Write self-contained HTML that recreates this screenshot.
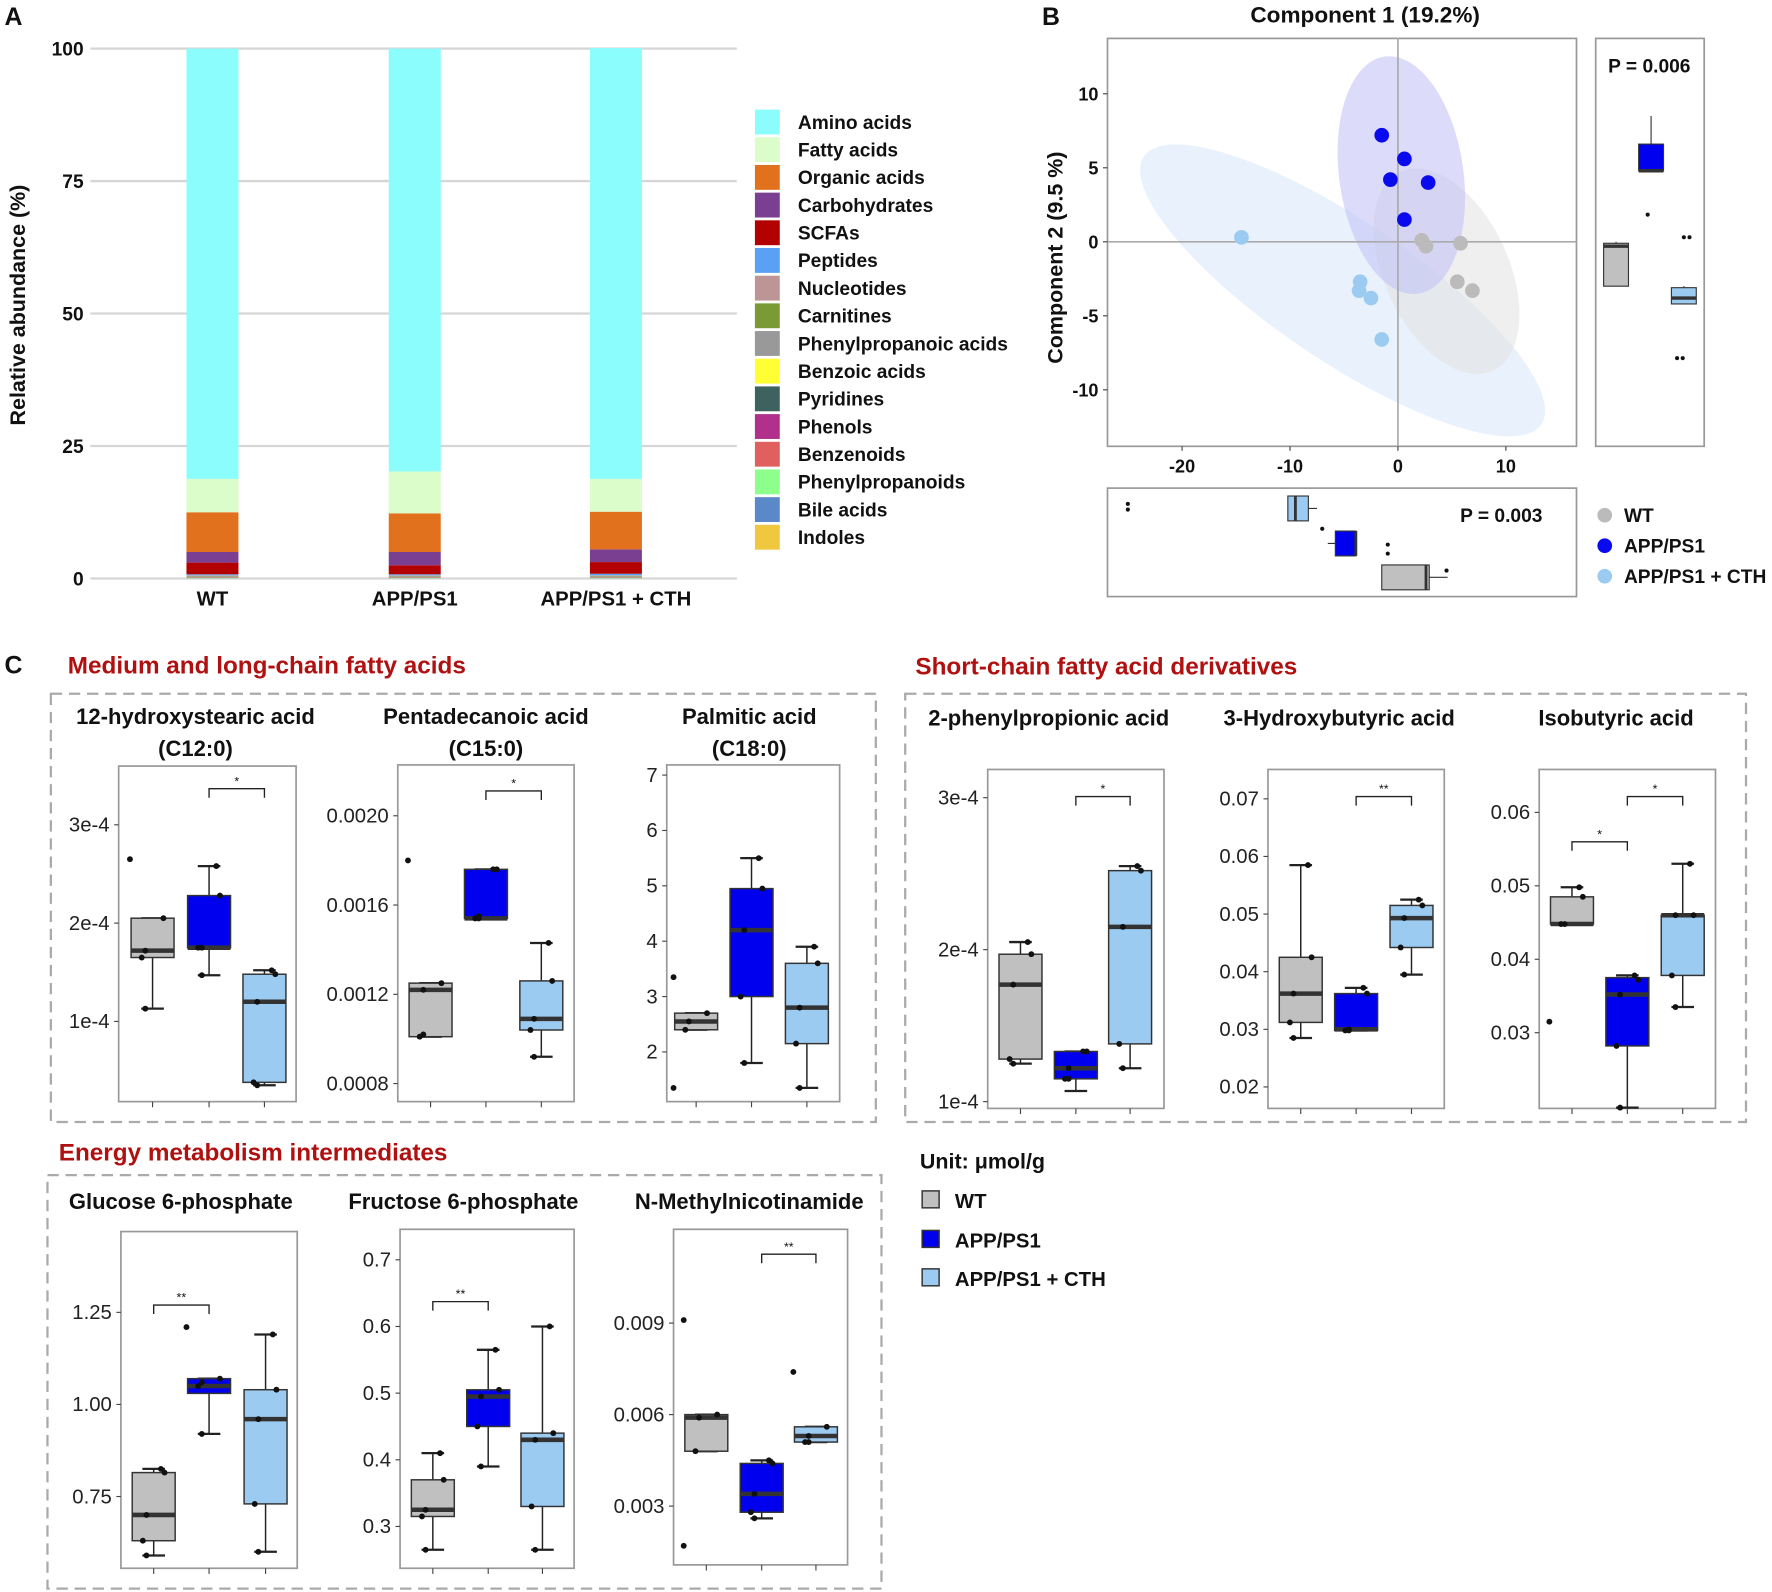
<!DOCTYPE html>
<html><head><meta charset="utf-8"><style>
html,body{margin:0;padding:0;background:#fff;}
svg{display:block;font-family:"Liberation Sans",Arial,sans-serif;}
</style></head><body>
<svg id="fig" width="1772" height="1592" viewBox="0 0 1568 1409" preserveAspectRatio="none" xmlns="http://www.w3.org/2000/svg"></svg>
<script>
// ---------- Panel A data ----------
const stackGroups = ["WT", "APP/PS1", "APP/PS1 + CTH"];
const stackCats = ["Amino acids","Fatty acids","Organic acids","Carbohydrates","SCFAs","Peptides","Nucleotides","Carnitines","Phenylpropanoic acids","Benzoic acids","Pyridines","Phenols","Benzenoids","Phenylpropanoids","Bile acids","Indoles"];
const stackColors = ["#8cfdfd","#dbfdc9","#e2711d","#7b3f92","#b30000","#5aa0f5","#be9595","#7a9a35","#999999","#ffff33","#3e6260","#b0308c","#e06060","#8cff8c","#5a88c8","#f0c840"];
const valsWT  = [81.2,6.3,7.5,2.0,2.2,0.2,0.1,0.1,0.1,0.05,0.05,0.05,0.05,0.05,0.05,0.0];
const valsAPP = [79.8,7.9,7.3,2.5,1.7,0.2,0.1,0.1,0.1,0.05,0.05,0.05,0.05,0.05,0.05,0.0];
const valsCTH = [81.3,6.2,7.1,2.4,2.2,0.3,0.1,0.1,0.1,0.05,0.05,0.05,0.05,0.05,0.05,0.0];
const stackTicks = [0,25,50,75,100];

// ---------- Panel B data ----------
const pcaX_WT  = [2.2,2.6,5.8,5.5,6.9];
const pcaY_WT  = [0.1,-0.3,-0.1,-2.7,-3.3];
const pcaX_APP = [-1.5,0.6,-0.7,2.8,0.6];
const pcaY_APP = [7.2,5.6,4.2,4.0,1.5];
const pcaX_CTH = [-14.5,-3.5,-3.6,-2.5,-1.5];
const pcaY_CTH = [0.3,-2.7,-3.3,-3.8,-6.6];
const pcaXTicks = [-20,-10,0,10];
const pcaYTicks = [10,5,0,-5,-10];
const pc2Box = [[-3.0,-3.0,-0.3,-0.1,0],[4.8,4.8,4.8,6.6,8.5],[-4.2,-4.2,-3.8,-3.1,-3.0]];
const pc1Box = [[-1.5,-1.5,2.6,2.9,4.6],[-6.5,-5.8,-3.9,-3.9,-3.9],[-10.2,-10.2,-9.5,-8.3,-7.5]];

// ---------- Panel C data (each box: [whiskLo, q1, median, q3, whiskHi]) ----------
const c1Box = [[1.13,1.65,1.72,2.05,2.05],[1.47,1.75,1.75,2.28,2.58],[0.35,0.38,1.2,1.48,1.52]];
const c1Pts = [[2.65,2.05,1.72,1.65,1.13],[2.58,2.28,1.75,1.75,1.47],[1.52,1.48,1.2,0.38,0.35]];
const c2Box = [[0.00101,0.00101,0.00122,0.00125,0.00125],[0.00154,0.00154,0.00154,0.00176,0.00176],[0.00092,0.00104,0.00109,0.00126,0.00143]];
const c2Pts = [[0.0018,0.00125,0.00122,0.00101,0.00102],[0.00176,0.00176,0.00155,0.00154,0.00154],[0.00143,0.00126,0.00109,0.00104,0.00092]];
const c3Box = [[2.4,2.4,2.55,2.7,2.7],[1.8,3.0,4.2,4.95,5.5],[1.35,2.15,2.8,3.6,3.9]];
const c3Pts = [[3.35,2.7,2.55,2.4,1.35],[5.5,4.95,4.2,3.0,1.8],[3.9,3.6,2.8,2.15,1.35]];
const c4Box = [[1.25,1.28,1.77,1.97,2.05],[1.07,1.15,1.22,1.33,1.33],[1.22,1.38,2.15,2.52,2.55]];
const c4Pts = [[2.05,1.97,1.77,1.28,1.25],[1.33,1.33,1.22,1.15,1.15],[2.55,2.52,2.15,1.38,1.22]];
const c5Box = [[0.0285,0.0312,0.0362,0.0425,0.0585],[0.0298,0.0298,0.0300,0.0362,0.0372],[0.0395,0.0442,0.0493,0.0515,0.0525]];
const c5Pts = [[0.0585,0.0425,0.0362,0.0312,0.0285],[0.0372,0.0362,0.0300,0.0298,0.0298],[0.0525,0.0515,0.0493,0.0442,0.0395]];
const c6Box = [[0.0448,0.0448,0.0448,0.0485,0.0498],[0.0198,0.0282,0.0352,0.0375,0.0378],[0.0335,0.0378,0.0460,0.0460,0.0530]];
const c6Pts = [[0.0498,0.0485,0.0448,0.0448,0.0315],[0.0378,0.0372,0.0352,0.0282,0.0198],[0.0530,0.0460,0.0460,0.0378,0.0335]];
const c7Box = [[0.59,0.63,0.70,0.815,0.825],[0.92,1.03,1.05,1.07,1.07],[0.60,0.73,0.96,1.04,1.19]];
const c7Pts = [[0.825,0.815,0.70,0.63,0.59],[1.21,1.07,1.06,1.05,0.92],[1.19,1.04,0.96,0.73,0.60]];
const c8Box = [[0.265,0.315,0.325,0.37,0.41],[0.39,0.45,0.495,0.505,0.565],[0.265,0.33,0.43,0.44,0.6]];
const c8Pts = [[0.41,0.37,0.325,0.315,0.265],[0.565,0.505,0.495,0.45,0.39],[0.6,0.44,0.43,0.33,0.265]];
const c9Box = [[0.0048,0.0048,0.0059,0.0060,0.0060],[0.0026,0.0028,0.0034,0.0044,0.0045],[0.0051,0.0051,0.0053,0.0056,0.0056]];
const c9Pts = [[0.0091,0.0060,0.0059,0.0048,0.0017],[0.0045,0.0044,0.0034,0.0028,0.0026],[0.0074,0.0056,0.0053,0.0051,0.0051]];

const groupFill = ["#c0c0c0","#0000ee","#9ccbf2"];
const svg = document.getElementById('fig');
const NS = "http://www.w3.org/2000/svg";

function mk(tag, attrs, name, parent, txt){
  const el = document.createElementNS(NS, tag);
  for (const k in attrs) el.setAttribute(k, attrs[k]);
  
  
  if (txt !== undefined) el.textContent = txt;
  (parent || svg).appendChild(el);
  return el;
}
function T(x,y,s,opt,name){
  opt = opt || {};
  return mk('text',{x:x,y:y,'font-size':opt.fs||17,'font-weight':opt.fw||'bold','text-anchor':opt.a||'start',fill:opt.c||'#111',transform:opt.tr||''},name,opt.p,s);
}

// ================= PANEL A =================
T(4,22,"A",{fs:22},'panel-a-label');
const aY = v => 512 - v*4.69;
const aCenters = [188,367,545];
stackTicks.forEach(t=>{
  mk('line',{x1:80,x2:652,y1:aY(t),y2:aY(t),stroke:'#d6d6d6','stroke-width':2},'gridline-'+t);
  T(74,aY(t)+6,String(t),{fs:17,a:'end'},'y-tick-'+t);
});
T(22,270,"Relative abundance (%)",{fs:19,a:'middle',tr:'rotate(-90 22 270)'},'y-axis-title');
[valsWT,valsAPP,valsCTH].forEach((vals,gi)=>{
  let base = 0;
  for (let i = stackCats.length-1; i>=0; i--){
    const v = vals[i];
    if (v<=0) continue;
    mk('rect',{x:aCenters[gi]-23,y:aY(base+v),width:46,height:aY(base)-aY(base+v),fill:stackColors[i]},'bar-'+stackGroups[gi]+'-'+stackCats[i]);
    base += v;
  }
  T(aCenters[gi],536,stackGroups[gi],{fs:18,a:'middle'},'x-label-'+gi);
});
stackCats.forEach((c,i)=>{
  const y = 97 + i*24.5;
  mk('rect',{x:668,y:y,width:22,height:22,fill:stackColors[i]},'legend-swatch-'+i);
  T(706,y+17,c,{fs:17},'legend-entry-'+i);
});

// ================= PANEL B =================
T(922,22,"B",{fs:22},'panel-b-label');
T(1208,20,"Component 1 (19.2%)",{fs:20,a:'middle'},'pca-x-title');
T(940,228,"Component 2 (9.5 %)",{fs:19,a:'middle',tr:'rotate(-90 940 228)'},'pca-y-title');
const bX = v => 1237 + v*9.55;
const bY = v => 214 - v*13.1;
mk('rect',{x:980,y:34,width:415,height:361,fill:'#fff',stroke:'#999','stroke-width':1.5},'pca-plot-frame');
mk('ellipse',{cx:1188,cy:257,rx:212,ry:62,transform:'rotate(34 1188 257)',fill:'#dbe8fa','fill-opacity':0.6},'ellipse-cth');
mk('ellipse',{cx:1280,cy:240,rx:55,ry:97,transform:'rotate(-25 1280 240)',fill:'#e2e2e2','fill-opacity':0.55},'ellipse-wt');
mk('ellipse',{cx:1240,cy:155,rx:55,ry:106,transform:'rotate(-8 1240 155)',fill:'#c0c0f6','fill-opacity':0.55},'ellipse-app');
mk('line',{x1:980,x2:1395,y1:bY(0),y2:bY(0),stroke:'#aaa','stroke-width':1.5},'pca-hline');
mk('line',{x1:bX(0),x2:bX(0),y1:34,y2:395,stroke:'#aaa','stroke-width':1.5},'pca-vline');
pcaXTicks.forEach(t=>{ T(bX(t),418,String(t),{fs:16,a:'middle'},'pca-x-tick-'+t); mk('line',{x1:bX(t),x2:bX(t),y1:395,y2:399,stroke:'#444'},'pca-x-tickmark');});
pcaYTicks.forEach(t=>{ T(972,bY(t)+6,String(t),{fs:16,a:'end'},'pca-y-tick-'+t); mk('line',{x1:976,x2:980,y1:bY(t),y2:bY(t),stroke:'#444'},'pca-y-tickmark');});
[[pcaX_WT,pcaY_WT,'#bbbbbb','wt'],[pcaX_APP,pcaY_APP,'#0a0aee','app'],[pcaX_CTH,pcaY_CTH,'#9ccbf2','cth']].forEach(s=>{
  s[0].forEach((x,i)=>mk('circle',{cx:bX(x),cy:bY(s[1][i]),r:6.5,fill:s[2]},'point-'+s[3]+'-'+i));
});
mk('rect',{x:1412,y:34,width:96,height:361,fill:'#fff',stroke:'#999','stroke-width':1.5},'pc2-box-frame');
T(1423,64,"P = 0.006",{fs:17},'pc2-pvalue');
function vbox(cx,w,arr,col,yf,name){
  mk('line',{x1:cx,x2:cx,y1:yf(arr[0]),y2:yf(arr[4]),stroke:'#333','stroke-width':1},name+'-whisker');
  mk('rect',{x:cx-w/2,y:yf(arr[3]),width:w,height:Math.max(1,yf(arr[1])-yf(arr[3])),fill:col,stroke:'#333','stroke-width':1},name+'-box');
  mk('line',{x1:cx-w/2,x2:cx+w/2,y1:yf(arr[2]),y2:yf(arr[2]),stroke:'#333','stroke-width':3},name+'-median');
}
function hbox(cy,h,arr,col,xf,name){
  mk('line',{y1:cy,y2:cy,x1:xf(arr[0]),x2:xf(arr[4]),stroke:'#333','stroke-width':1},name+'-whisker');
  mk('rect',{y:cy-h/2,x:xf(arr[1]),height:h,width:Math.max(1,xf(arr[3])-xf(arr[1])),fill:col,stroke:'#333','stroke-width':1},name+'-box');
  mk('line',{y1:cy-h/2,y2:cy+h/2,x1:xf(arr[2]),x2:xf(arr[2]),stroke:'#333','stroke-width':2.5},name+'-median');
}
vbox(1430,22,pc2Box[0],groupFill[0],bY,'pc2-wt');
vbox(1461,22,pc2Box[1],groupFill[1],bY,'pc2-app');
vbox(1490,22,pc2Box[2],groupFill[2],bY,'pc2-cth');
mk('rect',{x:980,y:432,width:415,height:96,fill:'#fff',stroke:'#999','stroke-width':1.5},'pc1-box-frame');
T(1292,462,"P = 0.003",{fs:17},'pc1-pvalue');
hbox(450,22,pc1Box[2],groupFill[2],bX,'pc1-cth');
hbox(481,22,pc1Box[1],groupFill[1],bX,'pc1-app');
hbox(511,22,pc1Box[0],groupFill[0],bX,'pc1-wt');
[[998,446],[998,451],[1170,468],[1228,482],[1228,490],[1280,505],[1458,190],[1490,210],[1495,210],[1484,317],[1489,317]].forEach((p,i)=>mk('circle',{cx:p[0],cy:p[1],r:1.8,fill:'#111'},'marginal-outlier-'+i));
[['WT','#bbbbbb',456],['APP/PS1','#0a0aee',483],['APP/PS1 + CTH','#9ccbf2',510]].forEach((l,i)=>{
  mk('circle',{cx:1420,cy:l[2],r:6.5,fill:l[1]},'pca-legend-marker-'+i);
  T(1437,l[2]+6,l[0],{fs:17},'pca-legend-entry-'+i);
});

// ================= PANEL C =================
T(4,596,"C",{fs:22},'panel-c-label');
T(60,596,"Medium and long-chain fatty acids",{fs:21.5,c:'#b01010'},'group-title-mlcfa');
T(810,597,"Short-chain fatty acid derivatives",{fs:21.5,c:'#b01010'},'group-title-scfa');
T(52,1027,"Energy metabolism intermediates",{fs:21.5,c:'#b01010'},'group-title-energy');
mk('rect',{x:45,y:614,width:730,height:379,fill:'none',stroke:'#aaa','stroke-width':2,'stroke-dasharray':'10 6'},'group-frame-mlcfa');
mk('rect',{x:801,y:614,width:744,height:379,fill:'none',stroke:'#aaa','stroke-width':2,'stroke-dasharray':'10 6'},'group-frame-scfa');
mk('rect',{x:42,y:1040,width:738,height:366,fill:'none',stroke:'#aaa','stroke-width':2,'stroke-dasharray':'10 6'},'group-frame-energy');

function boxPanel(cfg, boxes, pts){
  const yf = v => cfg.y0 + (v - cfg.v0) * cfg.k;
  mk('rect',{x:cfg.fx,y:cfg.fy,width:cfg.fw,height:cfg.fh,fill:'#fff',stroke:'#999','stroke-width':1.5},cfg.name+'-frame');
  cfg.title.forEach((t,i)=>T(cfg.tx,cfg.ty+i*28,t,{fs:19.5,a:'middle'},cfg.name+'-title'));
  cfg.ticks.forEach((t,i)=>{
    T(cfg.fx-8,yf(t)+6,cfg.tickLabels[i],{fs:18,fw:'normal',a:'end',c:'#222'},cfg.name+'-ytick');
    mk('line',{x1:cfg.fx-4,x2:cfg.fx,y1:yf(t),y2:yf(t),stroke:'#444'},cfg.name+'-ytickmark');
  });
  boxes.forEach((b,gi)=>{
    const cx = cfg.cx[gi], w = 38;
    mk('line',{x1:cx,x2:cx,y1:yf(b[0]),y2:yf(b[4]),stroke:'#222','stroke-width':1.3},cfg.name+'-whisker-'+gi);
    mk('line',{x1:cx-10,x2:cx+10,y1:yf(b[0]),y2:yf(b[0]),stroke:'#222','stroke-width':2},cfg.name+'-cap-lo-'+gi);
    mk('line',{x1:cx-10,x2:cx+10,y1:yf(b[4]),y2:yf(b[4]),stroke:'#222','stroke-width':2},cfg.name+'-cap-hi-'+gi);
    mk('rect',{x:cx-w/2,y:yf(b[3]),width:w,height:Math.max(1,yf(b[1])-yf(b[3])),fill:groupFill[gi],stroke:'#333','stroke-width':1.3},cfg.name+'-box-'+gi);
    mk('line',{x1:cx-w/2,x2:cx+w/2,y1:yf(b[2]),y2:yf(b[2]),stroke:'#333','stroke-width':4},cfg.name+'-median-'+gi);
    mk('line',{x1:cx,x2:cx,y1:cfg.fy+cfg.fh,y2:cfg.fy+cfg.fh+5,stroke:'#444'},cfg.name+'-xtickmark-'+gi);
    pts[gi].forEach((v,pi)=>{
      const inside = v>=b[0]-1e-12 && v<=b[4]+1e-12;
      const px = inside ? cx + (pi%2?12:-8)*((pi%3)?1:-1)*0.8 : cx - 20;
      mk('circle',{cx:px,cy:yf(v),r:2.6,fill:'#111'},cfg.name+'-point-'+gi+'-'+pi);
    });
  });
  (cfg.sig||[]).forEach((s,i)=>{
    const x1=cfg.cx[s[0]], x2=cfg.cx[s[1]], y=s[2];
    mk('path',{d:`M${x1},${y+8}V${y}H${x2}V${y+8}`,fill:'none',stroke:'#222','stroke-width':1.2},cfg.name+'-sig-bracket-'+i);
    T((x1+x2)/2,y-3,s[3],{fs:11,fw:'normal',a:'middle'},cfg.name+'-sig-star-'+i);
  });
}
boxPanel({name:'c12',fx:105,fy:678,fw:157,fh:297,tx:173,ty:641,title:['12-hydroxystearic acid','(C12:0)'],y0:904,v0:1,k:-87,ticks:[1,2,3],tickLabels:['1e-4','2e-4','3e-4'],cx:[135,185,234],sig:[[1,2,698,'*']]},c1Box,c1Pts);
boxPanel({name:'c15',fx:352,fy:677,fw:156,fh:298,tx:430,ty:641,title:['Pentadecanoic  acid','(C15:0)'],y0:959,v0:0.0008,k:-197500,ticks:[0.0008,0.0012,0.0016,0.002],tickLabels:['0.0008','0.0012','0.0016','0.0020'],cx:[381,430,479],sig:[[1,2,700,'*']]},c2Box,c2Pts);
boxPanel({name:'c18',fx:590,fy:677,fw:153,fh:298,tx:663,ty:641,title:['Palmitic acid','(C18:0)'],y0:931,v0:2,k:-49,ticks:[2,3,4,5,6,7],tickLabels:['2','3','4','5','6','7'],cx:[616,665,714]},c3Box,c3Pts);
boxPanel({name:'phenylpropionic',fx:874,fy:681,fw:156,fh:300,tx:928,ty:642,title:['2-phenylpropionic acid'],y0:975,v0:1,k:-134.5,ticks:[1,2,3],tickLabels:['1e-4','2e-4','3e-4'],cx:[903,952,1000],sig:[[1,2,705,'*']]},c4Box,c4Pts);
boxPanel({name:'hydroxybutyric',fx:1122,fy:681,fw:156,fh:300,tx:1185,ty:642,title:['3-Hydroxybutyric acid'],y0:962,v0:0.02,k:-5100,ticks:[0.02,0.03,0.04,0.05,0.06,0.07],tickLabels:['0.02','0.03','0.04','0.05','0.06','0.07'],cx:[1151,1200,1249],sig:[[1,2,705,'**']]},c5Box,c5Pts);
boxPanel({name:'isobutyric',fx:1362,fy:681,fw:156,fh:300,tx:1430,ty:642,title:['Isobutyric acid'],y0:914,v0:0.03,k:-6500,ticks:[0.03,0.04,0.05,0.06],tickLabels:['0.03','0.04','0.05','0.06'],cx:[1391,1440,1489],sig:[[0,1,745,'*'],[1,2,705,'*']]},c6Box,c6Pts);
boxPanel({name:'g6p',fx:107,fy:1090,fw:156,fh:298,tx:160,ty:1070,title:['Glucose 6-phosphate'],y0:1243,v0:1,k:-326,ticks:[0.75,1,1.25],tickLabels:['0.75','1.00','1.25'],cx:[136,185,235],sig:[[0,1,1155,'**']]},c7Box,c7Pts);
boxPanel({name:'f6p',fx:354,fy:1088,fw:154,fh:300,tx:410,ty:1070,title:['Fructose 6-phosphate'],y0:1351,v0:0.3,k:-590,ticks:[0.3,0.4,0.5,0.6,0.7],tickLabels:['0.3','0.4','0.5','0.6','0.7'],cx:[383,432,480],sig:[[0,1,1152,'**']]},c8Box,c8Pts);
boxPanel({name:'nmn',fx:596,fy:1088,fw:154,fh:297,tx:663,ty:1070,title:['N-Methylnicotinamide'],y0:1333,v0:0.003,k:-27000,ticks:[0.003,0.006,0.009],tickLabels:['0.003','0.006','0.009'],cx:[625,674,722],sig:[[1,2,1110,'**']]},c9Box,c9Pts);

T(814,1034,"Unit: μmol/g",{fs:19},'unit-label');
[['WT',1063],['APP/PS1',1098],['APP/PS1  + CTH',1132]].forEach((l,i)=>{
  mk('rect',{x:816,y:l[1]-9,width:15,height:15,fill:groupFill[i],stroke:'#333','stroke-width':1.3},'c-legend-swatch-'+i);
  T(845,l[1]+6,l[0],{fs:18},'c-legend-entry-'+i);
});
</script>
</body></html>
